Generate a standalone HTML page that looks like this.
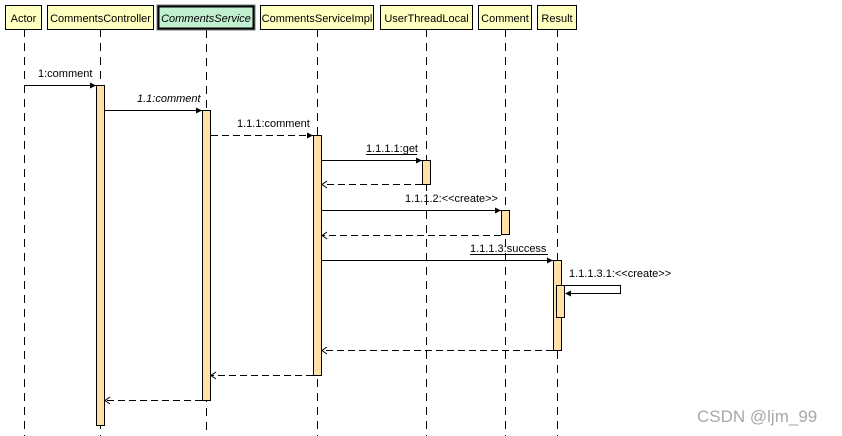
<!DOCTYPE html>
<html><head><meta charset="utf-8"><style>
html,body{margin:0;padding:0;background:#fff;}
svg{display:block;}
text{font-family:"Liberation Sans",Arial,sans-serif;font-size:11px;fill:#000;}
</style></head><body>
<svg width="842" height="436" viewBox="0 0 842 436" xmlns="http://www.w3.org/2000/svg">
<defs>
<marker id="f" markerWidth="6" markerHeight="6" refX="6" refY="3" orient="auto" markerUnits="userSpaceOnUse">
<path d="M0,0 L6,3 L0,6 z" fill="#000"/></marker>
</defs>
<!-- lifelines -->
<g stroke="#000" stroke-width="1" stroke-dasharray="8,6">
<line x1="24.5" y1="29" x2="24.5" y2="436"/>
<line x1="100.5" y1="29" x2="100.5" y2="436"/>
<line x1="206.5" y1="30" x2="206.5" y2="436"/>
<line x1="317.5" y1="29" x2="317.5" y2="436"/>
<line x1="426.5" y1="29" x2="426.5" y2="436"/>
<line x1="505.5" y1="29" x2="505.5" y2="436"/>
<line x1="557.5" y1="29" x2="557.5" y2="436"/>
</g>
<!-- header boxes -->
<g stroke="#000" stroke-width="1" fill="#ffffc0">
<rect x="5.5" y="5.5" width="36" height="24"/>
<rect x="47.5" y="5.5" width="106" height="24"/>
<rect x="260.5" y="5.5" width="113" height="24"/>
<rect x="380.5" y="5.5" width="92" height="24"/>
<rect x="478.5" y="5.5" width="53" height="24"/>
<rect x="537.5" y="5.5" width="39" height="24"/>
</g>
<rect x="157" y="5" width="98" height="25" fill="#c0f0d0" stroke="#777" stroke-width="1"/>
<rect x="158.5" y="6.5" width="95" height="22" fill="none" stroke="#000" stroke-width="2"/>
<text x="23.5" y="22" text-anchor="middle">Actor</text>
<text x="100.5" y="22" text-anchor="middle">CommentsController</text>
<text x="206" y="22" text-anchor="middle" font-style="italic">CommentsService</text>
<text x="317" y="22" text-anchor="middle">CommentsServiceImpl</text>
<text x="426.5" y="22" text-anchor="middle">UserThreadLocal</text>
<text x="505" y="22" text-anchor="middle">Comment</text>
<text x="557" y="22" text-anchor="middle">Result</text>
<!-- activations -->
<g stroke="#000" stroke-width="1" fill="#ffe0a8">
<rect x="96.5" y="85.5" width="8" height="340"/>
<rect x="202.5" y="110.5" width="8" height="290"/>
<rect x="313.5" y="135.5" width="8" height="240"/>
<rect x="422.5" y="160.5" width="8" height="24"/>
<rect x="501.5" y="210.5" width="8" height="24"/>
<rect x="553.5" y="260.5" width="8" height="90"/>
<rect x="556.5" y="285.5" width="8" height="32"/>
</g>
<!-- messages -->
<g stroke="#000" stroke-width="1" fill="none">
<line x1="25" y1="85.5" x2="96" y2="85.5" marker-end="url(#f)"/>
<line x1="105" y1="110.5" x2="202" y2="110.5" marker-end="url(#f)"/>
<line x1="211" y1="135.5" x2="313" y2="135.5" stroke-dasharray="7,4" marker-end="url(#f)"/>
<line x1="322" y1="160.5" x2="422" y2="160.5" marker-end="url(#f)"/>
<line x1="322" y1="210.5" x2="501" y2="210.5" marker-end="url(#f)"/>
<line x1="322" y1="260.5" x2="553" y2="260.5" marker-end="url(#f)"/>
<!-- returns -->
<g stroke-dasharray="7,4">
<line x1="422" y1="184.5" x2="322" y2="184.5"/>
<line x1="501" y1="235.5" x2="322" y2="235.5"/>
<line x1="553" y1="350.5" x2="322" y2="350.5"/>
<line x1="313" y1="375.5" x2="211" y2="375.5"/>
<line x1="202" y1="400.5" x2="105" y2="400.5"/>
</g>
<g>
<path d="M327,181 L322,184.5 L327,188"/>
<path d="M327,232 L322,235.5 L327,239"/>
<path d="M327,347 L322,350.5 L327,354"/>
<path d="M216,372 L211,375.5 L216,379"/>
<path d="M110,397 L105,400.5 L110,404"/>
</g>
<!-- self call -->
<path d="M565,285.5 L620.5,285.5 L620.5,293.5 L566,293.5"/>
</g>
<path d="M565,293.5 L571,290.5 L571,296.5 z" fill="#000"/>
<!-- labels -->
<text x="38" y="77">1:comment</text>
<text x="137" y="102" font-style="italic">1.1:comment</text>
<text x="237" y="127">1.1.1:comment</text>
<text x="366" y="152">1.1.1.1:get</text>
<line x1="366" y1="154.5" x2="417" y2="154.5" stroke="#000"/>
<text x="405" y="202">1.1.1.2:&lt;&lt;create&gt;&gt;</text>
<text x="470" y="252">1.1.1.3:success</text>
<line x1="470" y1="254.5" x2="548" y2="254.5" stroke="#000"/>
<text x="569" y="277">1.1.1.3.1:&lt;&lt;create&gt;&gt;</text>
<text x="697" y="422" style="font-size:17px;fill:#a8a8a8;">CSDN @ljm_99</text>
</svg>
</body></html>
